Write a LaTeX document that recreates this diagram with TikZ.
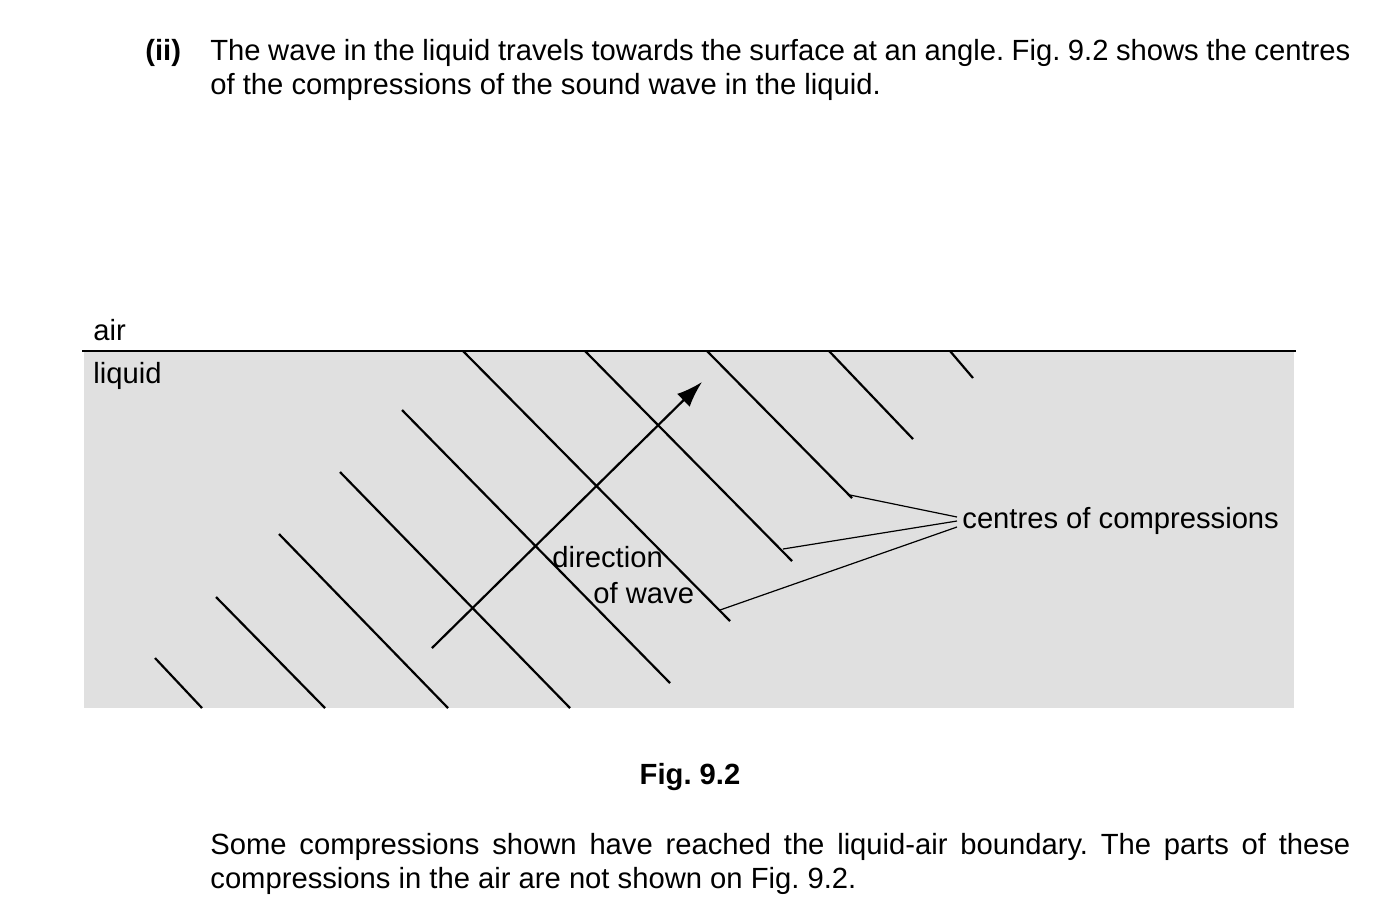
\documentclass[tikz,border=0pt]{standalone}
\usepackage{fontspec}
\setmainfont{Liberation Sans}
\usetikzlibrary{arrows.meta}
\frenchspacing
\begin{document}
\begin{tikzpicture}[x=0.5pt,y=-0.5pt,
  comp/.style={line width=1.1pt},
  lead/.style={line width=0.6pt},
  txt/.style={inner sep=0pt,font=\fontsize{14.6pt}{18pt}\selectfont}]
\useasboundingbox (0,0) rectangle (1398,918);
\fill[gray!24] (84,351) rectangle (1294,708);
\draw[line width=1pt] (82,351) -- (1296,351);
\draw[comp] (155,658) -- (202,708);
\draw[comp] (216,597) -- (325,708);
\draw[comp] (279,534) -- (448,708);
\draw[comp] (340,472) -- (570,708);
\draw[comp] (402,410) -- (670,683);
\draw[comp] (463,351) -- (730,621);
\draw[comp] (585,351) -- (792,561);
\draw[comp] (707,351) -- (852,498);
\draw[comp] (829,351) -- (913,439);
\draw[comp] (950,351) -- (973,378);
\coordinate (as) at (432,648);
\coordinate (ae) at (702,382);
\draw[line width=1.1pt,-{Latex[length=13pt,width=9pt]}] (as) -- (ae);
\node[txt,anchor=west] (cc) at (962,521) {centres of compressions};
\coordinate (c1) at (850,495);
\coordinate (c2) at (783,549);
\coordinate (c3) at (720,610);
\draw[lead] (957,517) -- (c1);
\draw[lead] (957,521) -- (c2);
\draw[lead] (957,527) -- (c3);
\node[txt,anchor=west] (dir) at (552,557) {direction};
\node[txt,anchor=west] (ofw) at (593,593) {of wave};
\node[txt,anchor=west] (air) at (93,330) {air};
\node[txt,anchor=west] (liq) at (93,376) {liquid};
\node[txt,anchor=west] (ii) at (145,53) {\bfseries (ii)};
\node[txt,anchor=west] (h1) at (210,53) {\makebox[570pt][s]{The wave in the liquid travels towards the surface at an angle. Fig. 9.2 shows the centres}};
\node[txt,anchor=west] (h2) at (210,87) {of the compressions of the sound wave in the liquid.};
\node[txt] (fig) at (690,777) {\bfseries Fig. 9.2};
\node[txt,anchor=west] (b1) at (210,847) {\makebox[570pt][s]{Some compressions shown have reached the liquid-air boundary. The parts of these}};
\node[txt,anchor=west] (b2) at (210,881) {compressions in the air are not shown on Fig. 9.2.};
\end{tikzpicture}
\end{document}
